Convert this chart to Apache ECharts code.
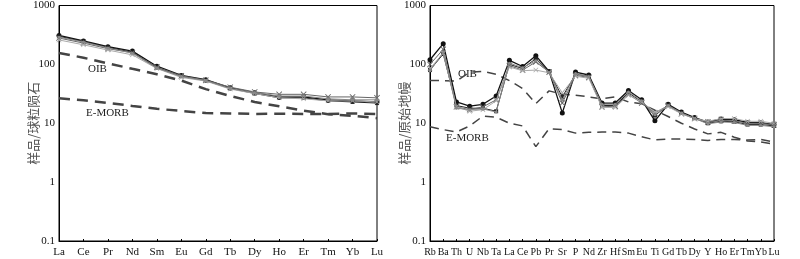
<!DOCTYPE html>
<html>
<head>
<meta charset="utf-8">
<script src="https://cdn.jsdelivr.net/npm/echarts@6/dist/echarts.min.js"></script>
<style>
  html, body { margin: 0; padding: 0; background: #fff; }
  #chart { width: 800px; height: 259px; }
</style>
</head>
<body>
<div id="chart"></div>
<script>
// 稀土元素 (球粒陨石标准化)
const reeCats = ['La', 'Ce', 'Pr', 'Nd', 'Sm', 'Eu', 'Gd', 'Tb', 'Dy', 'Ho', 'Er', 'Tm', 'Yb', 'Lu']
const reeS1 = [310, 250, 200, 168, 93, 65, 55, 40, 33, 28, 28, 25, 24, 23]
const reeS2 = [300, 245, 195, 160, 88, 63, 53, 39, 32, 27, 27, 24, 23, 22]
const reeS3 = [280, 230, 185, 158, 90, 64, 54, 41, 34, 31, 31, 28, 28, 27]
const reeS4 = [260, 215, 175, 145, 85, 60, 52, 38, 32, 27, 26, 24, 24, 23]
const reeS5 = [290, 240, 190, 155, 86, 62, 53, 39, 33, 29, 29, 26, 25, 25]
const reeOIB = [156, 130, 104, 84, 68, 53, 38, 29, 23, 19.4, 16.4, 14.2, 13.4, 12.2]
const reeEMORB = [26.6, 24.5, 22.1, 19.7, 17.6, 16.2, 14.9, 14.7, 14.4, 14.5, 14.4, 14.4, 14.7, 14.4]

// 微量元素 (原始地幔标准化)
const spiCats = ['Rb', 'Ba', 'Th', 'U', 'Nb', 'Ta', 'La', 'Ce', 'Pb', 'Pr', 'Sr', 'P', 'Nd', 'Zr', 'Hf', 'Sm', 'Eu', 'Ti', 'Gd', 'Tb', 'Dy', 'Y', 'Ho', 'Er', 'Tm', 'Yb', 'Lu']
const spiS1 = [120, 225, 23, 19.5, 21, 29, 117, 92, 140, 76, 15, 74, 66, 22, 22, 36, 25, 11, 21, 15.5, 12.5, 10.5, 11.8, 11.5, 10.3, 10.2, 9.5]
const spiS2 = [80, 150, 20, 18, 18, 16, 100, 85, 125, 75, 28, 68, 63, 20, 20, 33, 23, 13.5, 20.5, 15, 12.2, 10, 10.8, 10.6, 9.5, 9.5, 9]
const spiS3 = [100, 180, 19, 17, 19, 25, 95, 80, 110, 74, 22, 65, 60, 19, 19.5, 31, 22, 15, 20, 14.5, 12, 10.5, 11.2, 11, 10, 10, 9.4]
const spiS4 = [85, 155, 19, 16, 17, 24, 90, 78, 80, 72, 33, 63, 58, 18.5, 18.5, 30, 23, 15.5, 19, 14.5, 12, 10.8, 12, 12, 10.8, 10.8, 10]
const spiS5 = [78, 160, 18, 17, 17.5, 15.5, 105, 88, 115, 73, 25, 70, 62, 21, 21, 34, 24, 14, 20, 15, 12, 9.8, 10.5, 10.3, 9.2, 9.2, 8.7]
const spiOIB = [53, 53, 52, 74, 76, 68, 53, 39, 21.5, 35.5, 31, 30, 28, 26, 28, 23, 21.5, 16.6, 13, 10, 8, 6.6, 7, 5.8, 5, 4.8, 4.4]
const spiEMORB = [8.7, 7.8, 7.1, 9, 13.2, 12.7, 10, 9, 4, 8.1, 7.8, 6.8, 7, 7.1, 7.1, 6.8, 5.9, 5.2, 5.4, 5.4, 5.3, 5.1, 5.3, 5.3, 5.2, 5.3, 4.8]

const yTicks = { 0.1: '0.1', 1: '1', 10: '10', 100: '100', 1000: '1000' }
const serif = '"Liberation Serif", "DejaVu Serif", serif'

const xShape = 'path://M0,1L1,0L5,4L9,0L10,1L6,5L10,9L9,10L5,6L1,10L0,9L4,5Z'

const sampleStyles = [
  { color: '#111', symbol: 'circle', symbolSize: 5, width: 1.3 },
  { color: '#222', symbol: 'rect', symbolSize: 4, width: 1 },
  { color: '#666', symbol: xShape, symbolSize: 6, width: 1 },
  { color: '#aaa', symbol: xShape, symbolSize: 5, width: 1 },
  { color: '#888', symbol: 'circle', symbolSize: 3, width: 1 }
]

function samples(list, idx) {
  return list.map((d, i) => ({
    type: 'line',
    xAxisIndex: idx,
    yAxisIndex: idx,
    data: d,
    symbol: sampleStyles[i].symbol,
    symbolSize: sampleStyles[i].symbolSize,
    itemStyle: { color: sampleStyles[i].color },
    lineStyle: { color: sampleStyles[i].color, width: sampleStyles[i].width },
    z: 3 + i,
    silent: true
  }))
}

function ref(d, idx, w, dash) {
  return {
    type: 'line',
    xAxisIndex: idx,
    yAxisIndex: idx,
    data: d,
    symbol: 'none',
    lineStyle: { color: '#444', width: w, type: dash },
    z: 2,
    silent: true
  }
}

function xAxis(cats, idx, fs) {
  return {
    type: 'category',
    gridIndex: idx,
    data: cats,
    boundaryGap: false,
    axisLine: { lineStyle: { color: '#000', width: 1 } },
    axisTick: { inside: true, length: 2, lineStyle: { color: '#000' }, alignWithLabel: true },
    axisLabel: { interval: 0, color: '#111', fontFamily: serif, fontSize: fs, margin: 6, hideOverlap: false },
    splitLine: { show: false }
  }
}

function yAxis(name, idx) {
  return {
    type: 'log',
    logBase: 10,
    gridIndex: idx,
    min: 0.1,
    max: 1000,
    name: name,
    nameLocation: 'middle',
    nameGap: 19,
    nameMoveOverlap: false,
    nameRotate: 90,
    nameTextStyle: { color: '#555', fontFamily: '"Noto Sans CJK SC"', fontSize: 13 },
    axisLine: { show: true, lineStyle: { color: '#000', width: 1 } },
    axisTick: { inside: true, length: 3, lineStyle: { color: '#000' } },
    axisLabel: {
      color: '#111', fontFamily: serif, fontSize: 11, margin: 4,
      formatter: v => yTicks[Math.round(v * 10) / 10] || ''
    },
    splitLine: { show: false },
    minorTick: { show: false }
  }
}

const option = {
  animation: false,
  backgroundColor: '#fff',
  grid: [
    { left: 59, right: 423, top: 5, bottom: 18, show: true, borderColor: '#000', borderWidth: 1 },
    { left: 430, right: 26, top: 5, bottom: 18, show: true, borderColor: '#000', borderWidth: 1 }
  ],
  xAxis: [xAxis(reeCats, 0, 11), xAxis(spiCats, 1, 10)],
  yAxis: [yAxis('样品/球粒陨石', 0), yAxis('样品/原始地幔', 1)],
  graphic: [
    { type: 'text', left: 88, top: 64, style: { text: 'OIB', font: '11px ' + serif, fill: '#222' } },
    { type: 'text', left: 86, top: 108, style: { text: 'E-MORB', font: '11px ' + serif, fill: '#222' } },
    { type: 'text', left: 458, top: 69, style: { text: 'OIB', font: '11px ' + serif, fill: '#222' } },
    { type: 'text', left: 446, top: 133, style: { text: 'E-MORB', font: '11px ' + serif, fill: '#222' } }
  ],
  series: [
    ref(reeOIB, 0, 2.5, [11, 7]),
    ref(reeEMORB, 0, 2.5, [11, 7]),
    ...samples([reeS1, reeS2, reeS3, reeS4, reeS5], 0),
    ref(spiOIB, 1, 1.5, [9, 6]),
    ref(spiEMORB, 1, 1.5, [9, 6]),
    ...samples([spiS1, spiS2, spiS3, spiS4, spiS5], 1)
  ]
}

const myChart = echarts.init(document.getElementById('chart'))
myChart.setOption(option)
</script>
</body>
</html>
